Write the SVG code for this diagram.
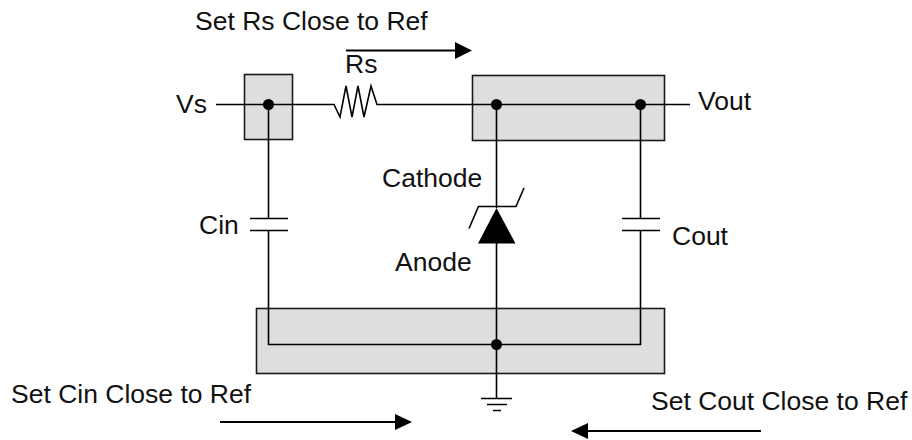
<svg xmlns="http://www.w3.org/2000/svg" width="912" height="440" viewBox="0 0 912 440">
<style>
.box{fill:#dedede;stroke:#1a1a1a;stroke-width:1.6}
.w{fill:none;stroke:#000;stroke-width:1.6}
.a{fill:none;stroke:#000;stroke-width:1.8}
.dot{fill:#000}
.head{fill:#000}
text{font-family:"Liberation Sans",Arial,sans-serif;font-size:26.5px;fill:#111}
</style>
<rect width="912" height="440" fill="#fff"/>
<g id="ref-vs"><rect class="box" x="244.500" y="74.500" width="48" height="65"/></g>
<g id="ref-vout"><rect class="box" x="472.500" y="75.500" width="192" height="65"/></g>
<g id="ref-gnd"><rect class="box" x="256.500" y="308.500" width="408" height="65"/></g>
<g id="connectors">
<path class="w" d="M216 104.500H334L340 117L346 86L352 117L358 86L364 117L371 86L377 104.500H690"/>
<path class="w" d="M268.500 104.500V218.500M268.500 230.500V344.500H640.500V230.500M640.500 218.500V104.500"/>
<path class="w" d="M496.500 104.500V208M496.500 243V399"/>
<path class="a" d="M346 50.500H456M220 422H396M761 431H587"/>
<path class="head" d="M455 42L472 50.500L455 59ZM395 414L412 422L395 430ZM588 423L571 431L588 439Z"/>
</g>
<g id="node-vs-dot"><circle class="dot" cx="268.500" cy="104.500" r="5.500"/></g>
<g id="node-vout-dot1"><circle class="dot" cx="496.500" cy="104.500" r="5.500"/></g>
<g id="node-vout-dot2"><circle class="dot" cx="640.500" cy="104.500" r="5.500"/></g>
<g id="node-gnd-dot"><circle class="dot" cx="496.500" cy="344.500" r="5.500"/></g>
<g id="cin"><path class="w" d="M250 218.500H288M250 230.500H288"/></g>
<g id="cout"><path class="w" d="M622 218.500H660M622 230.500H660"/></g>
<g id="zener"><path class="head" d="M496.500 208L515.500 243.500H478Z"/><path class="w" d="M469 228.500L478.500 206.500H516L524 188"/></g>
<g id="ground"><path class="w" d="M481 398.500H512M487 404.500H507M493 410.500H501"/></g>
<g id="labels">
<text x="195" y="30">Set Rs Close to Ref</text>
<text x="345" y="73">Rs</text>
<text x="176" y="113">Vs</text>
<text x="698" y="110">Vout</text>
<text x="382" y="187">Cathode</text>
<text x="199" y="234">Cin</text>
<text x="672" y="245">Cout</text>
<text x="395" y="271">Anode</text>
<text x="11" y="403">Set Cin Close to Ref</text>
<text x="651" y="410">Set Cout Close to Ref</text>
</g>
</svg>
